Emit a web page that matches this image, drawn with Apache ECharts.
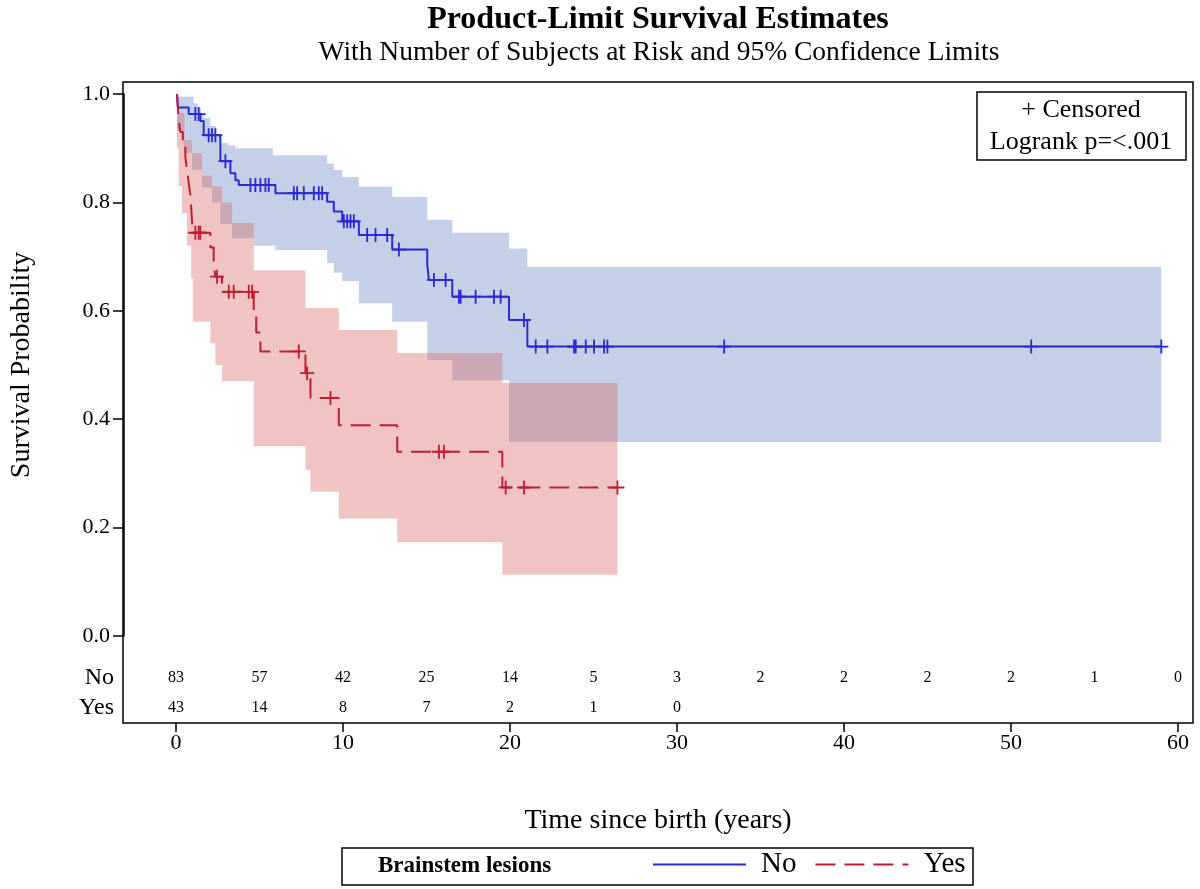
<!DOCTYPE html>
<html><head><meta charset="utf-8">
<script src="https://cdn.jsdelivr.net/npm/echarts/dist/echarts.min.js"></script>
<style>html,body{margin:0;padding:0;background:#fff}#c{width:1200px;height:889px}</style>
</head><body><div id="c"></div>
<script>
// ---- Data ----
const blueTimes = [0, 0.05, 0.7, 1.4, 1.6, 2.6, 3.2, 3.5, 3.7, 5.9, 9.0, 9.4, 9.9, 10.9, 12.9, 15.0, 15.1, 16.5, 19.9, 21.0, 59.0];
const blueSurv  = [1.0, 0.975, 0.963, 0.95, 0.924, 0.876, 0.854, 0.841, 0.832, 0.817, 0.801, 0.783, 0.765, 0.74, 0.713, 0.685, 0.657, 0.626, 0.583, 0.534, 0.534];
const blueCens  = [1.1, 1.3, 1.9, 2.1, 2.3, 2.9, 4.4, 4.7, 5.0, 5.3, 5.5, 7.0, 7.2, 7.6, 8.2, 8.5, 8.7, 10.0, 10.2, 10.4, 10.6, 11.4, 11.9, 12.6, 13.3, 15.4, 16.1, 16.9, 17.0, 17.9, 19.0, 19.4, 20.8, 21.5, 22.2, 23.8, 23.9, 24.5, 25.0, 25.6, 25.8, 32.8, 51.2, 59.0];

const redTimes = [0, 0.05, 0.1, 0.2, 0.35, 0.5, 0.6, 0.7, 0.8, 0.85, 0.9, 0.95, 2.0, 2.2, 2.3, 2.7, 4.6, 4.75, 5.0, 7.7, 8.0, 9.7, 13.2, 19.5, 26.4];
const redSurv  = [1.0, 0.977, 0.953, 0.930, 0.907, 0.884, 0.860, 0.837, 0.814, 0.791, 0.767, 0.744, 0.717, 0.690, 0.663, 0.635, 0.60, 0.56, 0.525, 0.485, 0.439, 0.389, 0.34, 0.274, 0.274];
const redCens  = [1.1, 1.3, 1.4, 2.4, 3.1, 3.4, 4.3, 4.5, 7.3, 7.8, 9.2, 15.7, 16.0, 19.7, 20.8, 26.4];

// 95% confidence bands (step functions)
const blueLoT = [0, 0.4, 0.9, 1.5, 2.1, 2.6, 3.3, 4.6, 5.9, 9.0, 9.4, 9.9, 10.9, 12.9, 15.0, 16.5, 19.9];
const blueLo  = [0.932, 0.891, 0.86, 0.827, 0.80, 0.76, 0.734, 0.72, 0.712, 0.688, 0.67, 0.655, 0.614, 0.58, 0.509, 0.472, 0.358];
const blueHiT = [0, 1.0, 1.25, 1.45, 1.6, 2.0, 2.35, 2.6, 3.05, 3.5, 5.75, 9.0, 9.4, 9.9, 10.9, 12.9, 15.0, 16.5, 19.9, 21.0];
const blueHi  = [0.995, 0.983, 0.974, 0.965, 0.956, 0.941, 0.924, 0.91, 0.905, 0.90, 0.887, 0.872, 0.86, 0.847, 0.829, 0.81, 0.768, 0.744, 0.715, 0.681];
const blueEnd = 59.0;

const redLoT = [0, 0.1, 0.3, 0.6, 0.85, 0.95, 2.0, 2.3, 2.7, 4.6, 7.7, 8.0, 9.7, 13.2, 19.5];
const redLo  = [0.90, 0.83, 0.78, 0.72, 0.66, 0.58, 0.54, 0.50, 0.47, 0.35, 0.306, 0.266, 0.217, 0.173, 0.113];
const redHiT = [0, 0.05, 0.45, 0.9, 1.5, 2.1, 2.7, 3.3, 4.6, 7.7, 9.7, 13.2, 19.5];
const redHi  = [1.0, 0.965, 0.915, 0.891, 0.849, 0.83, 0.80, 0.762, 0.675, 0.605, 0.565, 0.522, 0.467];
const redEnd = 26.4;

// Number at risk
const riskTimes = [0, 5, 10, 15, 20, 25, 30, 35, 40, 45, 50, 55, 60];
const riskNo  = [83, 57, 42, 25, 14, 5, 3, 2, 2, 2, 2, 1, 0];
const riskYes = [43, 14, 8, 7, 2, 1, 0];
const rowNames = ['Yes', 'No'];

// ---- Build ----
const SERIF = '"Liberation Serif", "DejaVu Serif", serif';
const BLUE = '#2b2bd2';
const RED = '#be1e32';
const pairs = (ts, vs) => ts.map((t, i) => [t, vs[i]]);
function survAt(ts, vs, t) { let s = vs[0]; for (let i = 0; i < ts.length; i++) { if (ts[i] <= t) s = vs[i]; } return s; }

function bandSeries(loT, lo, hiT, hi, tEnd, color, z) {
  return {
    type: 'custom', xAxisIndex: 0, yAxisIndex: 0, z: z, silent: true,
    data: [[0, 0]],
    renderItem: function (params, api) {
      if (params.dataIndex !== 0) return null;
      const pts = [];
      for (let i = 0; i < hiT.length; i++) {
        const t1 = i + 1 < hiT.length ? hiT[i + 1] : tEnd;
        pts.push(api.coord([hiT[i], hi[i]]), api.coord([t1, hi[i]]));
      }
      for (let i = lo.length - 1; i >= 0; i--) {
        const t1 = i + 1 < loT.length ? loT[i + 1] : tEnd;
        pts.push(api.coord([t1, lo[i]]), api.coord([loT[i], lo[i]]));
      }
      return { type: 'polygon', shape: { points: pts }, style: { fill: color, stroke: null } };
    }
  };
}

const plusPath = 'path://M-1.3,-10L1.3,-10L1.3,-1.3L10,-1.3L10,1.3L1.3,1.3L1.3,10L-1.3,10L-1.3,1.3L-10,1.3L-10,-1.3L-1.3,-1.3Z';

const riskData = [];
riskTimes.forEach((t, i) => riskData.push([t, 'No', riskNo[i]]));
riskYes.forEach((v, i) => riskData.push([riskTimes[i], 'Yes', v]));

const chart = echarts.init(document.getElementById('c'), null, { renderer: 'canvas' });
chart.setOption({
  animation: false,
  backgroundColor: '#fff',
  grid: [
    { left: 176, width: 1002, top: 94, height: 542 },
    { left: 176, width: 1002, top: 663, height: 60 }
  ],
  xAxis: [
    { gridIndex: 0, type: 'value', min: 0, max: 60, show: false },
    { gridIndex: 1, type: 'value', min: 0, max: 60, interval: 10,
      axisLine: { show: false, onZero: false },
      axisTick: { show: true, length: 9, lineStyle: { color: '#000', width: 1.5 } },
      axisLabel: { fontSize: 22, color: '#000', fontFamily: SERIF, margin: 9 },
      splitLine: { show: false },
      name: 'Time since birth (years)', nameLocation: 'middle', nameGap: 84,
      nameTextStyle: { fontSize: 28, color: '#000', fontFamily: SERIF, padding: [0, 38, 0, 0] } }
  ],
  yAxis: [
    { gridIndex: 0, type: 'value', min: 0, max: 1, interval: 0.2, offset: 53,
      axisLine: { show: true, onZero: false, lineStyle: { color: '#000', width: 1.5 } },
      axisTick: { show: true, length: 11, lineStyle: { color: '#000', width: 1.5 } },
      axisLabel: { fontSize: 22, color: '#000', fontFamily: SERIF, margin: 14, formatter: v => v.toFixed(1) },
      splitLine: { show: false },
      name: 'Survival Probability', nameLocation: 'middle', nameGap: 88, nameRotate: 90,
      nameTextStyle: { fontSize: 28, color: '#000', fontFamily: SERIF } },
    { gridIndex: 1, type: 'category', data: rowNames, offset: 53,
      axisLine: { show: false, onZero: false }, axisTick: { show: false },
      axisLabel: { fontSize: 24, color: '#000', fontFamily: SERIF, margin: 9, interval: 0 },
      splitLine: { show: false } }
  ],
  legend: {
    data: ['No', 'Yes'], left: 652, top: 850, orient: 'horizontal', padding: 0,
    itemWidth: 93, itemHeight: 14, itemGap: 18,
    itemStyle: { opacity: 0 },
    textStyle: { fontSize: 29, color: '#000', fontFamily: SERIF, padding: [5, 0, 0, 10] }
  },
  series: [
    bandSeries(blueLoT, blueLo, blueHiT, blueHi, blueEnd, 'rgba(108,138,198,0.4)', 1),
    bandSeries(redLoT, redLo, redHiT, redHi, redEnd, 'rgba(218,108,103,0.4)', 2),
    { name: 'No', type: 'line', xAxisIndex: 0, yAxisIndex: 0, step: 'end', symbol: 'none', showSymbol: false, z: 3,
      data: pairs(blueTimes, blueSurv), lineStyle: { color: BLUE, width: 2 }, itemStyle: { color: BLUE } },
    { name: 'Yes', type: 'line', xAxisIndex: 0, yAxisIndex: 0, step: 'end', symbol: 'none', showSymbol: false, z: 4,
      data: pairs(redTimes, redSurv), lineStyle: { color: RED, width: 2, type: [20, 9] }, itemStyle: { color: RED } },
    { type: 'scatter', xAxisIndex: 0, yAxisIndex: 0, symbol: plusPath, symbolSize: 14, z: 5, silent: true,
      data: blueCens.map(t => [t, survAt(blueTimes, blueSurv, t)]), itemStyle: { color: BLUE, opacity: 1 } },
    { type: 'scatter', xAxisIndex: 0, yAxisIndex: 0, symbol: plusPath, symbolSize: 14, z: 6, silent: true,
      data: redCens.map(t => [t, survAt(redTimes, redSurv, t)]), itemStyle: { color: RED, opacity: 1 } },
    { type: 'custom', xAxisIndex: 1, yAxisIndex: 1, silent: true,
      data: riskData,
      renderItem: function (params, api) {
        const p = api.coord([api.value(0), api.value(1)]);
        return { type: 'text', x: p[0], y: p[1],
          style: { text: String(api.value(2)), align: 'center', verticalAlign: 'middle',
                   fontSize: 16, fontFamily: SERIF, fill: '#000' } };
      } }
  ],
  graphic: [
    { type: 'text', x: 658, y: 20, style: { text: 'Product-Limit Survival Estimates', align: 'center', verticalAlign: 'middle', fontSize: 32, fontWeight: 'bold', fontFamily: SERIF, fill: '#000' } },
    { type: 'text', x: 659, y: 53, style: { text: 'With Number of Subjects at Risk and 95% Confidence Limits', align: 'center', verticalAlign: 'middle', fontSize: 27.5, fontFamily: SERIF, fill: '#000' } },
    { type: 'rect', shape: { x: 123, y: 82, width: 1070, height: 641 }, style: { fill: 'none', stroke: '#000', lineWidth: 1.5 }, z: 100 },
    { type: 'rect', shape: { x: 977, y: 92, width: 209, height: 68 }, style: { fill: '#fff', stroke: '#000', lineWidth: 1.5 }, z: 100 },
    { type: 'text', x: 1081, y: 110, style: { text: '+ Censored', align: 'center', verticalAlign: 'middle', fontSize: 26, fontFamily: SERIF, fill: '#000' }, z: 101 },
    { type: 'text', x: 1081, y: 142, style: { text: 'Logrank p=<.001', align: 'center', verticalAlign: 'middle', fontSize: 26, fontFamily: SERIF, fill: '#000' }, z: 101 },
    { type: 'rect', shape: { x: 342, y: 848, width: 631, height: 37 }, style: { fill: 'none', stroke: '#000', lineWidth: 1.5 }, z: 100 },
    { type: 'text', x: 378, y: 866, style: { text: 'Brainstem lesions', align: 'left', verticalAlign: 'middle', fontSize: 23, fontWeight: 'bold', fontFamily: SERIF, fill: '#000' }, z: 101 }
  ]
});
</script>
</body></html>
